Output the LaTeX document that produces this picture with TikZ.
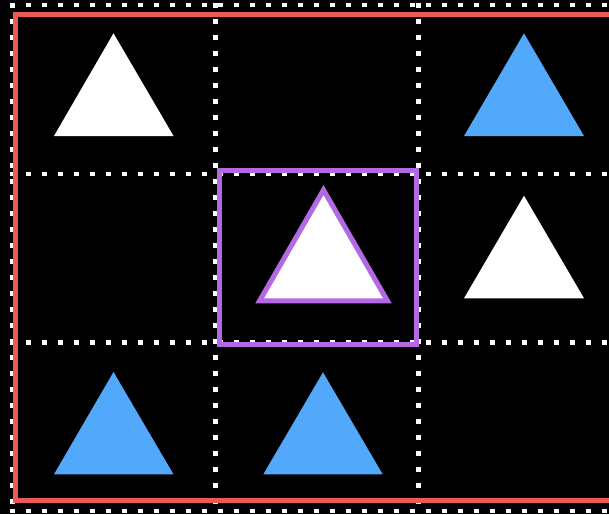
\documentclass[tikz,border=0pt]{standalone}
\begin{document}
\begin{tikzpicture}[x=1pt,y=-1pt,
  gridline/.style={white,line width=4.5pt,dash pattern=on 5pt off 11pt},
  whitetri/.style={fill=white},
  bluetri/.style={fill=triblue},
  frame/.style={draw=framered,line width=5pt},
  focus/.style={draw=focuspurple,line width=5pt}]
\definecolor{triblue}{RGB}{82,168,250}
\definecolor{framered}{RGB}{236,90,86}
\definecolor{focuspurple}{RGB}{180,105,228}
\useasboundingbox (0,0) rectangle (609,514);
\fill[black] (0,0) rectangle (609,514);
% dotted grid
\foreach \yy in {5,174,342.5,511} {\draw[gridline] (10,\yy) -- (620,\yy);}
\foreach \xx in {12.5,215.5,418.5} {\draw[gridline] (\xx,3) -- (\xx,520);}
% triangles
\fill[whitetri] (113.5,33.3) -- (173.5,136) -- (54,136) -- cycle;
\fill[bluetri] (524,33.3) -- (584,136) -- (464,136) -- cycle;
\fill[whitetri] (524,195.7) -- (584,298.3) -- (464,298.3) -- cycle;
\fill[bluetri] (113.5,372) -- (173.5,474.3) -- (54,474.3) -- cycle;
\fill[bluetri] (323,372.3) -- (382.7,474.3) -- (263.3,474.3) -- cycle;
\filldraw[fill=white,draw=focuspurple,line width=5pt,line join=miter] (323.5,190) -- (387.4,300.8) -- (259.6,300.8) -- cycle;
% focus box
\draw[focus] (219,170.5) rectangle (416.5,344);
% outer frame
\draw[frame] (15,14.5) rectangle (640,500.5);
\end{tikzpicture}
\end{document}
